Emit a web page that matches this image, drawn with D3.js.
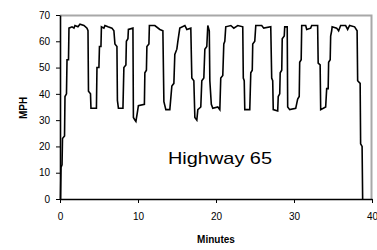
<!DOCTYPE html>
<html>
<head>
<meta charset="utf-8">
<script src="https://cdn.jsdelivr.net/npm/d3@7"></script>
<style>
  body { margin: 0; background: #fff; }
  .axis text { font-family: "Liberation Sans", Arial, sans-serif; font-size: 10px; fill: #000; }
  .axis path, .axis line { stroke: #000; }
</style>
</head>
<body>
<div id="chart"></div>
<script>
// Speed trace: minutes and mph.
var minutes = [0.06, 0.13, 0.26, 0.32, 0.58, 0.64, 0.83, 0.90, 1.09, 1.15, 1.54, 1.79, 1.92, 2.30, 2.56, 3.07, 3.46,
  3.59, 3.65, 3.91, 3.97, 4.67, 4.74, 4.99, 5.06, 5.25, 5.31, 5.63, 5.76, 6.15, 6.66, 6.91, 7.04, 7.30, 7.36, 7.49,
  8.07, 8.19, 8.45, 8.51, 8.71, 8.77, 9.35, 9.41, 9.60, 9.73, 9.92, 10.05, 10.82, 10.88, 11.08, 11.14, 11.40, 11.46,
  12.16, 12.80, 13.19, 13.32, 13.57, 14.08, 14.34, 14.60, 14.72, 14.98, 15.11, 15.36, 16.01, 16.26, 16.77, 16.90,
  17.16, 17.29, 17.54, 17.67, 18.05, 18.18, 18.44, 18.57, 18.82, 18.95, 19.14, 19.21, 19.40, 19.59, 20.23, 20.49,
  20.61, 20.87, 21.00, 21.13, 21.25, 21.90, 22.28, 22.79, 23.43, 23.50, 23.62, 23.69, 24.33, 24.46, 24.65, 24.71,
  24.97, 25.10, 25.86, 26.12, 27.02, 27.14, 27.27, 27.34, 27.91, 27.98, 28.17, 28.23, 28.43, 28.49, 28.75, 28.81,
  29.13, 29.19, 29.45, 30.22, 30.47, 30.67, 30.73, 30.92, 30.99, 31.50, 31.63, 32.14, 32.27, 33.03, 33.10, 33.35,
  33.42, 34.06, 34.19, 34.38, 34.44, 34.64, 34.70, 34.83, 34.89, 35.47, 35.72, 35.98, 36.62, 36.88, 37.13, 37.77,
  38.09, 38.16, 38.48, 38.54, 38.73, 38.80];
var mph = [0, 12, 13, 23, 24, 39, 40, 53, 53, 65, 65.5, 65, 66, 65.5, 66.5, 66, 65,
  64, 41, 40, 34.5, 34.5, 50, 50, 58, 58, 65.5, 65, 66, 65.5, 65, 64, 59, 58, 37.5, 34.5,
  34.5, 50, 51, 60, 61, 64.5, 65, 31, 30, 29.5, 33, 35.5, 36, 48, 49, 58, 59, 66,
  66, 64.5, 64, 37, 34, 34, 43, 44, 55, 57, 60, 65, 66, 64.5, 65, 46,
  45, 31, 30, 34, 35, 45, 46, 57, 58, 66, 64, 45, 36, 34.5, 35, 34,
  46, 47, 59, 60, 65.5, 66, 65, 66, 65.5, 46, 45, 34, 34, 48, 49, 59,
  60, 66, 66, 65, 65.5, 46, 45, 34, 33.5, 39, 40, 48, 49, 61, 62, 65.5,
  65.5, 35, 34, 34.5, 38, 39, 52, 53, 66, 66, 64.5, 65, 66, 66, 51.7, 51,
  34, 35, 42, 42, 52, 53, 62, 64, 65.5, 65, 64, 66, 66, 64.5, 66, 65.5,
  64, 45, 44, 21, 20, 0];
var xTicks = [0, 10, 20, 30, 40];
var yTicks = [0, 10, 20, 30, 40, 50, 60, 70];

var svgWidth = 377;
var svgHeight = 250;
var margin = { top: 15, right: 5, bottom: 51, left: 60 };
var chartWidth = svgWidth - margin.left - margin.right;
var chartHeight = svgHeight - margin.top - margin.bottom;

var svg = d3.select("#chart").append("svg").attr("width", svgWidth).attr("height", svgHeight);
var chartGroup = svg.append("g").attr("transform", `translate(${margin.left},${margin.top})`);

var xScale = d3.scaleLinear().domain([0, 40]).range([0, chartWidth]);
var yScale = d3.scaleLinear().domain([0, 70]).range([chartHeight, 0]);

// grey frame on top and right
chartGroup.append("path")
  .attr("d", `M0,0.5H${chartWidth - 0.5}V${chartHeight}`)
  .attr("fill", "none").attr("stroke", "#a8a8a8").attr("stroke-width", 2);

var points = minutes.map((m, i) => [m, mph[i]]);
var line = d3.line().x(d => xScale(d[0])).y(d => yScale(d[1]));
chartGroup.append("path").datum(points)
  .attr("d", line).attr("fill", "none").attr("stroke", "#000").attr("stroke-width", 1.6);

var leftAxis = d3.axisLeft(yScale).tickValues(yTicks).tickSize(4).tickSizeOuter(0).tickPadding(6);
var bottomAxis = d3.axisBottom(xScale).tickValues(xTicks).tickSize(4).tickSizeOuter(0).tickPadding(10);
chartGroup.append("g").classed("axis", true).call(leftAxis)
  .call(g => g.select(".domain").attr("stroke-width", 1.6));
chartGroup.append("g").classed("axis", true).attr("transform", `translate(0,${chartHeight})`).call(bottomAxis)
  .call(g => g.select(".domain").attr("stroke-width", 1.6));

chartGroup.append("text")
  .attr("transform", `translate(${23 - margin.left},${108 - margin.top}) rotate(-90)`)
  .attr("text-anchor", "middle").attr("dy", "0.35em")
  .style("font-family", "Liberation Sans, Arial, sans-serif").style("font-size", "10px").style("font-weight", "bold")
  .text("MPH");

chartGroup.append("text")
  .attr("x", chartWidth / 2).attr("y", 243 - margin.top)
  .attr("text-anchor", "middle")
  .style("font-family", "Liberation Sans, Arial, sans-serif").style("font-size", "10px").style("font-weight", "bold")
  .text("Minutes");

chartGroup.append("text")
  .attr("x", 168 - margin.left).attr("y", 164 - margin.top)
  .attr("textLength", 104).attr("lengthAdjust", "spacingAndGlyphs")
  .style("font-family", "Liberation Sans, Arial, sans-serif").style("font-size", "17px")
  .text("Highway 65");
</script>
</body>
</html>
